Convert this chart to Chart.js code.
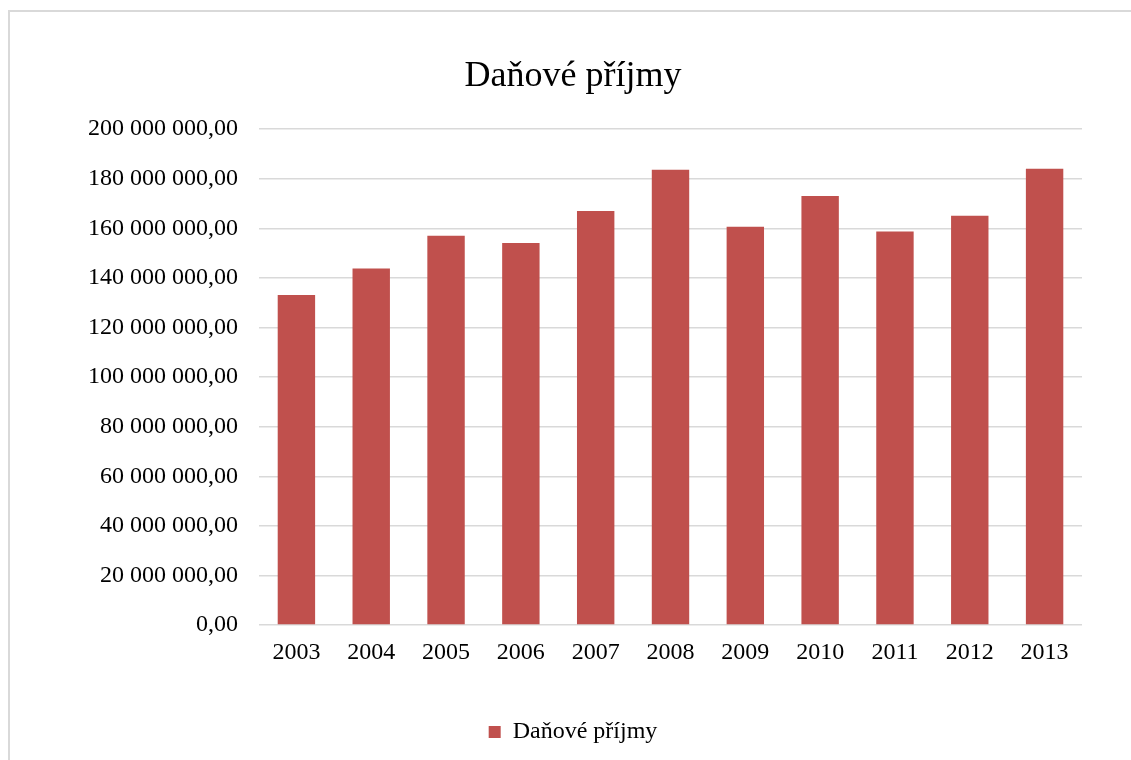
<!DOCTYPE html>
<html>
<head>
<meta charset="utf-8">
<script src="https://cdn.jsdelivr.net/npm/chart.js@4"></script>
<style>
  body { margin: 0; background: #fff; overflow: hidden; }
  #ramecek { position: absolute; left: 8px; top: 10px; width: 1200px; height: 800px; border: 2px solid #d9d9d9; }
  #graf { position: absolute; left: 0; top: 0; }
</style>
</head>
<body>
<div id="ramecek"></div>
<canvas id="graf" width="1131" height="760"></canvas>
<script>
// Roky a daňové příjmy
const roky = ['2003', '2004', '2005', '2006', '2007', '2008', '2009', '2010', '2011', '2012', '2013'];
const danovePrijmy = [133100000, 143800000, 157000000, 154100000, 167000000, 183600000, 160600000, 173100000, 158700000, 165100000, 184000000];
const nazevRady = 'Daňové příjmy';
const osaMax = 200000000;
const osaKrok = 20000000;

// Formát "200 000 000,00"
function formatCislo(v) {
    const cele = Math.round(v).toString().replace(/\B(?=(\d{3})+(?!\d))/g, ' ');
    return cele + ',00';
}

const ctx = document.getElementById('graf').getContext('2d');
new Chart(ctx, {
    type: 'bar',
    data: {
        labels: roky,
        datasets: [{
            label: nazevRady,
            data: danovePrijmy,
            backgroundColor: '#c0504d',
            barPercentage: 0.5,
            categoryPercentage: 1.0
        }]
    },
    options: {
        responsive: false,
        animation: false,
        devicePixelRatio: 1,
        layout: { padding: { left: 64, right: 49, top: 0, bottom: 6 } },
        font: { family: '"Liberation Serif", "Times New Roman", serif' },
        scales: {
            x: {
                afterFit: function (scale) { scale.height = 85; },
                grid: { display: false, drawTicks: false },
                border: { display: false },
                ticks: {
                    color: '#000',
                    padding: 13,
                    font: { family: '"Liberation Serif", serif', size: 24 }
                }
            },
            y: {
                min: 0,
                max: osaMax,
                afterFit: function (scale) { scale.width = 195; },
                grid: { color: '#d9d9d9', lineWidth: 1.5, drawTicks: false },
                border: { display: false },
                ticks: {
                    stepSize: osaKrok,
                    color: '#000',
                    padding: 21,
                    font: { family: '"Liberation Serif", serif', size: 24 },
                    callback: function (v) { return formatCislo(v); }
                }
            }
        },
        plugins: {
            title: {
                display: true,
                text: nazevRady,
                color: '#000',
                font: { family: '"Liberation Serif", serif', size: 36, weight: 'normal' },
                padding: { top: 55, bottom: 31 }
            },
            legend: {
                display: true,
                position: 'bottom',
                labels: {
                    color: '#000',
                    boxWidth: 12,
                    boxHeight: 12,
                    padding: 10,
                    font: { family: '"Liberation Serif", serif', size: 24 }
                }
            },
            tooltip: { enabled: false }
        }
    }
});
</script>
</body>
</html>
